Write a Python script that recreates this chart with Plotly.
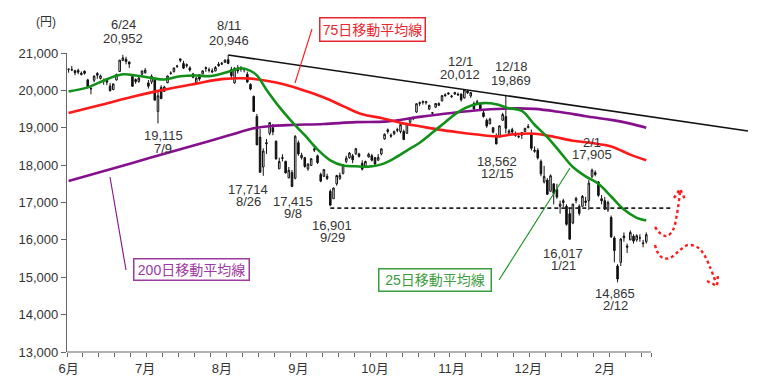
import plotly.graph_objects as go

# ---------------- data ----------------
jun_days = [1,2,3,4,5,8,9,10,11,12,15,16,17,18,19,22,23,24,25,26,29,30]
jul_days = [1,2,3,6,7,8,9,10,13,14,15,16,17,21,22,23,24,27,28,29,30,31]
aug_days = [3,4,5,6,7,10,11,12,13,14,17,18,19,20,21,24,25,26,27,28,31]
sep_days = [1,2,3,4,7,8,9,10,11,14,15,16,17,18,24,25,28,29,30]
oct_days = [1,2,5,6,7,8,9,13,14,15,16,19,20,21,22,23,26,27,28,29,30]
nov_days = [2,4,5,6,9,10,11,12,13,16,17,18,19,20,24,25,26,27,30]
dec_days = [1,2,3,4,7,8,9,10,11,14,15,16,17,18,21,22,24,25,28,29,30]
jan_days = [4,5,6,7,8,12,13,14,15,18,19,20,21,22,25,26,27,28,29]
feb_days = [1,2,3,4,5,8,9,10,12,15,16,17,18,19,22,23,24,25]

opens = [
 20563,20555,20525,20533,20420,20514,20280,20040,20270,20450,20318,20246,20311,20119,20020,20280,20506,20800,20830,20761,20369,20290,
 20240,20430,20470,20200,20225,20300,19433,20079,19975,20205,20453,20500,20640,20800,20720,20660,20600,20440,20198,20420,20440,20610,
 20540,20490,20520,20700,20700,20750,20820,20560,20200,20600,20570,20580,20430,20160,19840,19300,18750,17950,18600,18850,19000,
 18640,17900,18200,18100,17660,17800,17650,18600,18200,18200,17900,17990,18400,18250,17750,17700,17700,17300,17100,
 17500,17650,17780,18100,18200,18250,18300,18300,18050,17950,18220,18250,18200,18130,18300,18700,18900,18800,18840,18950,18900,
 18900,18850,19150,19250,19420,19650,19680,19670,19500,19400,19550,19600,19720,19850,19900,19830,19900,19900,19900,
 19800,19980,19850,19650,19650,19650,19400,19200,19100,19000,18750,18750,19200,19300,18800,18950,18850,18750,18800,18900,19000,
 18818,18400,18400,18100,17550,17600,17300,17500,17350,16900,17000,16900,16700,16450,17050,16900,16900,17000,17050,
 17700,17800,17550,17100,17050,16800,16600,16050,15300,15400,16100,15800,16000,16100,16000,16050,15900,15950]
highs = [
 20572,20655,20550,20581,20505,20532,20311,20092,20396,20489,20420,20316,20311,20200,20175,20444,20809,20952,20900,20769,20398,20320,
 20360,20522,20596,20276,20428,20340,19977,20140,20120,20397,20510,20600,20682,20850,20790,20720,20645,20470,20355,20430,20530,20638,
 20610,20590,20650,20760,20760,20830,20946,20630,20620,20680,20640,20610,20500,20190,19860,19370,18970,18450,18700,19140,19100,
 18660,18200,18290,18120,17950,17870,18800,18660,18330,18220,18050,18180,18500,18280,17800,17890,17770,17350,17400,
 17740,17800,18030,18250,18350,18300,18460,18330,18130,18120,18330,18300,18220,18300,18450,18850,18980,18850,18920,19000,19120,
 18950,19130,19270,19300,19650,19700,19730,19720,19620,19420,19660,19680,19870,19920,19950,19880,19960,19940,19920,
 20012,20000,19950,19700,19750,19680,19450,19250,19270,19020,18850,19060,19400,19869,18960,19000,18900,18800,18880,19000,19100,
 18951,18500,18450,18150,17980,17650,17750,17500,17500,17050,17100,16950,16870,16960,17150,16950,17200,17150,17600,
 17905,17860,17570,17200,17150,17050,16650,16100,15350,16050,16200,15900,16250,16150,16150,16150,16000,16200]
lows = [
 20473,20530,20406,20432,20403,20420,20051,19895,20219,20310,20292,20150,20138,19972,20008,20264,20500,20790,20696,20600,20093,20177,
 20203,20396,20449,20047,20171,19737,19115,19766,19960,20190,20420,20478,20600,20750,20570,20610,20500,20323,20144,20254,20440,20496,
 20480,20460,20510,20630,20680,20740,20700,20290,20180,20450,20500,20480,20200,20000,19420,18540,17807,17714,18300,18800,18800,
 18150,17900,18100,17780,17650,17415,17620,18250,18150,17930,17850,17990,18350,18030,17540,17680,17600,16901,17100,
 17450,17600,17750,18050,18170,18050,18280,18200,17860,17940,18200,18100,18000,18120,18260,18680,18840,18730,18800,18880,18850,
 18680,18850,19100,19200,19400,19580,19620,19620,19470,19340,19530,19580,19700,19840,19880,19800,19880,19850,19700,
 19780,19900,19800,19480,19630,19450,19270,19000,19100,18850,18562,18740,19180,18850,18780,18840,18760,18720,18700,18890,18990,
 18394,18330,18150,17700,17510,17200,17300,16950,17100,16700,16880,16380,16017,16420,16980,16650,16880,16900,16800,
 17650,17700,17150,16950,16800,16750,16050,15400,14865,15300,15950,15650,15990,15900,15950,15950,15800,15900]
closes = [
 20569,20543,20473,20488,20460,20457,20096,20046,20383,20407,20388,20258,20219,19991,20174,20428,20809,20868,20771,20706,20110,20236,
 20329,20522,20540,20112,20377,19738,19855,19780,20090,20385,20463,20600,20651,20842,20594,20684,20545,20350,20329,20303,20523,20585,
 20548,20520,20614,20664,20725,20809,20721,20393,20596,20519,20620,20554,20223,20034,19436,18541,17807,18377,18574,19136,18890,
 18166,18095,18182,17792,17860,17427,18771,18300,18264,17966,18026,18172,18432,18070,17572,17881,17645,16931,17388,
 17722,17725,18005,18186,18323,18141,18439,18235,17891,18097,18292,18131,18030,18207,18436,18825,18947,18777,18903,18936,19083,
 18683,19116,19266,19265,19643,19671,19698,19697,19597,19394,19650,19649,19860,19880,19925,19848,19944,19884,19747,
 20012,19938,19940,19504,19698,19493,19301,19047,19230,18883,18566,19050,19354,18987,18916,18887,18790,18769,18873,18982,19034,
 18451,18374,18191,17767,17698,17219,17716,17241,17147,16956,17048,16416,16017,16959,17111,16709,17164,17041,17518,
 17865,17751,17191,17045,16820,17004,16085,15713,14953,16023,16054,15836,16197,15967,16111,16052,15916,16140]

# moving averages (trading-day index, value)
ma25_idx = [0,6,12,17,21,26,30,35,40,44,49,54,57,59,62,66,70,74,78,82,86,90,94,98,102,106,110,114,118,122,126,130,134,138,142,146,150,154,158,162,166,170,174,178,181]
ma25_val = [19970,20080,20300,20430,20400,20330,20290,20380,20400,20380,20470,20590,20520,20400,20020,19560,19160,18800,18420,18130,17990,17970,17960,18020,18180,18390,18600,18870,19150,19420,19590,19660,19630,19520,19450,19080,18750,18350,17950,17700,17500,17160,16810,16590,16520]
ma75_idx = [0,10,20,30,40,48,56,62,68,74,80,86,92,98,104,110,116,122,128,134,140,146,152,158,164,170,176,181]
ma75_val = [19394,19608,19830,20020,20180,20300,20320,20260,20150,19990,19810,19580,19360,19260,19130,19040,18950,18880,18820,18770,18830,18840,18760,18650,18590,18500,18280,18130]
ma200_idx = [0,10,20,30,40,50,58,64,70,80,90,100,110,120,130,138,146,154,162,170,176,181]
ma200_val = [17574,17817,18060,18303,18546,18790,18985,19050,19075,19100,19150,19170,19290,19395,19480,19515,19505,19420,19310,19210,19110,19000]

month_tick_idx = [0,24,48,72,96,120,144,168]
month_tick_text = ['6月','7月','8月','9月','10月','11月','12月','2月']
y_ticks = [13000,14000,15000,16000,17000,18000,19000,20000,21000]

# ---------------- layout constants ----------------
PAGE_OFF = 8                      # default body margin of the page
W_PX, H_PX = 760 - PAGE_OFF, 380 - PAGE_OFF
L, R, T, B = 67, 10, 53, 28       # plot area edges in page pixels
PW = 760 - L - R
PH = 380 - T - B
XR = [-0.5, 213.5]
YR = [13000, 21000]

def px_x(px):
    return XR[0] + (px - L) / PW * (XR[1] - XR[0])

def px_y(py):
    return YR[0] + (T + PH - py) / PH * (YR[1] - YR[0])

def paper_x(px):
    return (px - L) / PW

def paper_y(py):
    return (T + PH - py) / PH

dates = ([f'6/{d}' for d in jun_days] + [f'7/{d}' for d in jul_days] + [f'8/{d}' for d in aug_days] +
         [f'9/{d}' for d in sep_days] + [f'10/{d}' for d in oct_days] + [f'11/{d}' for d in nov_days] +
         [f'12/{d}' for d in dec_days] + [f'1/{d}' for d in jan_days] + [f'2/{d}' for d in feb_days])
xs = list(range(len(dates)))

FONT = 'Liberation Sans, Arial, Noto Sans CJK JP, sans-serif'
TXT = '#333333'
GREEN = '#12901a'
RED = '#ff1a1a'
PURPLE = '#84108c'

fig = go.Figure()

fig.add_trace(go.Scatter(x=ma200_idx, y=ma200_val, mode='lines', line=dict(color=PURPLE, width=2.6, shape='spline'), hoverinfo='skip'))
fig.add_trace(go.Scatter(x=ma75_idx, y=ma75_val, mode='lines', line=dict(color=RED, width=2.6, shape='spline'), hoverinfo='skip'))

fig.add_trace(go.Candlestick(
    x=xs, open=opens, high=highs, low=lows, close=closes, text=dates,
    increasing=dict(line=dict(color='#111111', width=1), fillcolor='#ffffff'),
    decreasing=dict(line=dict(color='#111111', width=1), fillcolor='#111111'),
    whiskerwidth=0, showlegend=False))

fig.add_trace(go.Scatter(x=ma25_idx, y=ma25_val, mode='lines', line=dict(color=GREEN, width=2.6, shape='spline'), hoverinfo='skip'))

# trend line from 8/11 high
fig.add_trace(go.Scatter(x=[50, px_x(748)], y=[highs[50], px_y(131)], mode='lines',
                         line=dict(color='#111111', width=1.6), hoverinfo='skip'))
# support line at 9/29 low
fig.add_trace(go.Scatter(x=[82, px_x(672)], y=[16850, 16850], mode='lines',
                         line=dict(color='#222222', width=1.6, dash='4px,3px'), hoverinfo='skip'))

# red dotted scenario arrows
up_path = [(655,227),(661,234),(667,236),(673,230),(677,214),(680,192)]
up_head = [(674,198),(680,189),(685,199)]
dn_path = [(655,245),(658,253),(663,258),(670,258),(680,250),(688,245),(697,247),(703,253),(710,267),(716,283)]
dn_head = [(707,281),(717,286),(718,275)]
for pts, shp in [(up_path, 'spline'), (up_head, 'linear'), (dn_path, 'spline'), (dn_head, 'linear')]:
    fig.add_trace(go.Scatter(x=[px_x(p[0]) for p in pts], y=[px_y(p[1]) for p in pts], mode='lines',
                             line=dict(color=RED, width=2.4, dash='dot', shape=shp), hoverinfo='skip'))

shapes = []
# x axis line (only to the end of the data)
shapes.append(dict(type='line', xref='x', yref='paper', x0=-0.5, x1=182.5, y0=0, y1=0,
                   line=dict(color='#666666', width=1.2), layer='above'))
# pointer lines for the labels
for (x0, y0, x1, y1, c) in [(312, 29, 295, 83, RED), (110, 177, 126, 270, PURPLE), (499, 280, 570, 168, GREEN)]:
    shapes.append(dict(type='line', xref='paper', yref='paper', x0=paper_x(x0), y0=paper_y(y0),
                       x1=paper_x(x1), y1=paper_y(y1), line=dict(color=c, width=1.1)))

annotations = []
def txt(px, py, s, size=13, color=TXT):
    annotations.append(dict(x=paper_x(px), y=paper_y(py), xref='paper', yref='paper', text=s,
                            showarrow=False, xanchor='center', yanchor='middle',
                            font=dict(family=FONT, size=size, color=color)))

txt(46, 22, '(円)', 12)
txt(123, 24, '6/24'); txt(123, 38, '20,952')
txt(229, 25, '8/11'); txt(229, 40, '20,946')
txt(460, 62, '12/1'); txt(460, 75, '20,012')
txt(511, 67, '12/18'); txt(511, 80, '19,869')
txt(163, 135, '19,115'); txt(163, 148, '7/9')
txt(248, 189, '17,714'); txt(248, 201, '8/26')
txt(293, 201, '17,415'); txt(293, 213, '9/8')
txt(332, 225, '16,901'); txt(332, 237, '9/29')
txt(497, 161, '18,562'); txt(497, 173, '12/15')
txt(592, 142, '2/1'); txt(592, 154, '17,905')
txt(563, 253, '16,017'); txt(563, 265, '1/21')
txt(615, 293, '14,865'); txt(615, 305, '2/12')

def box(px, py, s, color, w, h):
    annotations.append(dict(x=paper_x(px), y=paper_y(py), xref='paper', yref='paper', text=s,
                            showarrow=False, xanchor='center', yanchor='middle', width=w, height=h,
                            bgcolor='#ffffff', bordercolor=color, borderwidth=1.5, borderpad=0,
                            font=dict(family=FONT, size=14, color=color)))

box(372.5, 29.5, '75日移動平均線', '#e8262e', 104, 22)
box(191.5, 269.5, '200日移動平均線', '#9c3aa0', 114, 20)
box(435, 280, '25日移動平均線', '#3c9c40', 111, 21)

fig.update_layout(
    width=W_PX, height=H_PX,
    margin=dict(l=L - PAGE_OFF, r=R, t=T - PAGE_OFF, b=B, pad=0, autoexpand=False),
    paper_bgcolor='white', plot_bgcolor='white', showlegend=False,
    shapes=shapes, annotations=annotations,
    font=dict(family=FONT, color=TXT),
    xaxis=dict(range=XR, showgrid=False, zeroline=False, showline=False, automargin=False,
               tickmode='array', tickvals=month_tick_idx, ticktext=month_tick_text,
               ticks='outside', ticklen=4, tickcolor='rgba(0,0,0,0)',
               tickfont=dict(family=FONT, size=13, color=TXT),
               minor=dict(tickmode='array', tickvals=[-0.5 + 5 * k for k in range(37)] + [182.5],
                          ticks='outside', ticklen=4, tickcolor='#666666', tickwidth=1, showgrid=False),
               rangeslider=dict(visible=False), fixedrange=True),
    yaxis=dict(range=YR, showgrid=False, zeroline=False, showline=True, linecolor='#666666', linewidth=1.2,
               automargin=False,
               tickmode='array', tickvals=y_ticks, tickformat=',', ticks='outside', ticklen=5,
               tickcolor='#666666', tickfont=dict(family=FONT, size=13, color=TXT), fixedrange=True),
)

fig.write_html('out.html')
